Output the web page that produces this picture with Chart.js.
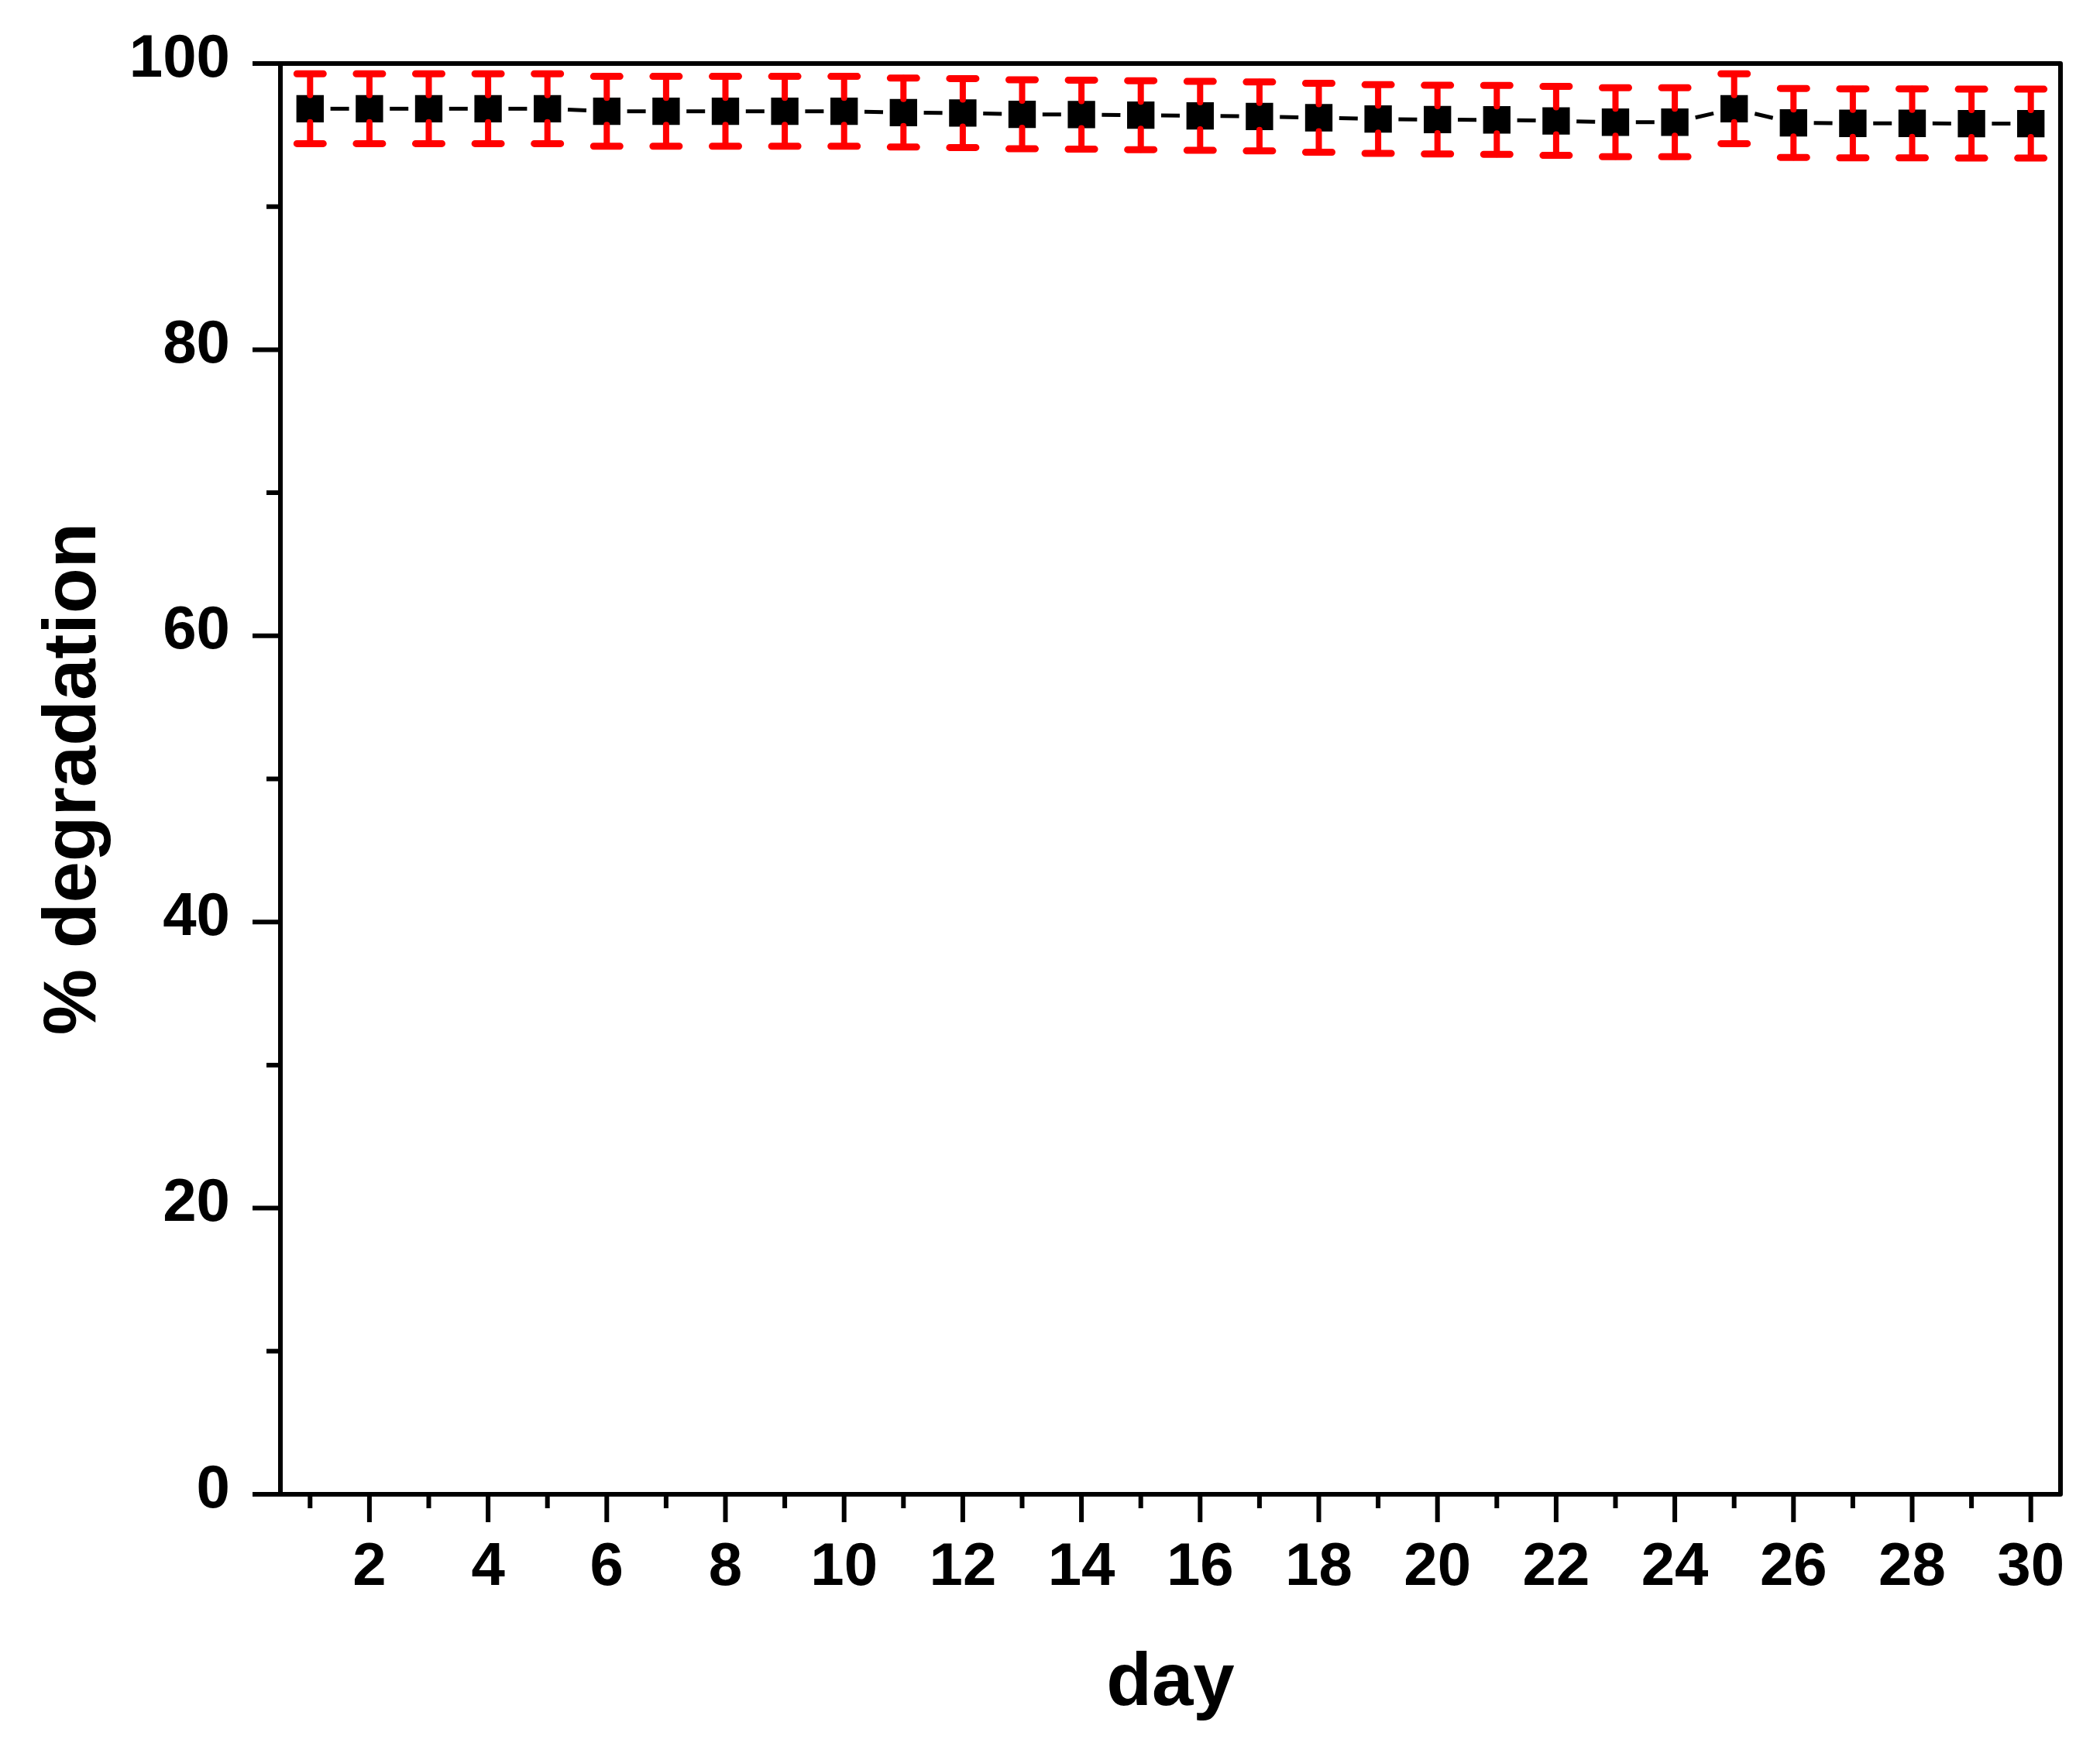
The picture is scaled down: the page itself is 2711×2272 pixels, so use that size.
<!DOCTYPE html>
<html><head><meta charset="utf-8">
<script src="https://cdn.jsdelivr.net/npm/chart.js@4/dist/chart.umd.min.js"></script>
<style>html,body{margin:0;padding:0;background:#fff;}canvas{display:block;}</style>
</head><body>
<canvas id="c" width="2711" height="2272"></canvas>
<script>
// ---- data ----
const days = [1,2,3,4,5,6,7,8,9,10,11,12,13,14,15,16,17,18,19,20,21,22,23,24,25,26,27,28,29,30];
const degradation = [96.84,96.84,96.84,96.84,96.84,96.66,96.66,96.66,96.66,96.66,
                     96.57,96.54,96.45,96.43,96.39,96.34,96.30,96.21,96.12,96.08,
                     96.06,95.99,95.90,95.90,96.84,95.85,95.82,95.82,95.80,95.80];
const errors = [2.44,2.44,2.44,2.44,2.44,2.44,2.44,2.44,2.44,2.44,
                2.41,2.41,2.41,2.41,2.41,2.41,2.41,2.41,2.40,2.40,
                2.41,2.41,2.41,2.41,2.44,2.41,2.41,2.41,2.41,2.41];
const xTickLabels = [2,4,6,8,10,12,14,16,18,20,22,24,26,28,30];
const xMinorTicks = [1,3,5,7,9,11,13,15,17,19,21,23,25,27,29];
const yTickLabels = [0,20,40,60,80,100];
const yMinorTicks = [10,30,50,70,90];
const xTitle = 'day';
const yTitle = '% degradation';

const FONT = '"Liberation Sans", Arial, Helvetica, sans-serif';

const errorBarPlugin = {
  id: 'errorBars',
  afterDatasetsDraw(chart) {
    const {ctx, scales: {x, y}} = chart;
    ctx.save();
    ctx.strokeStyle = '#ff0000';
    ctx.lineCap = 'round';
    const half = 17.5;
    days.forEach((d, i) => {
      const px = x.getPixelForValue(d);
      const pv = y.getPixelForValue(degradation[i]);
      const pt = y.getPixelForValue(degradation[i] + errors[i]);
      const pb = y.getPixelForValue(degradation[i] - errors[i]);
      ctx.lineWidth = 8;
      ctx.beginPath();
      ctx.moveTo(px, pt); ctx.lineTo(px, pv - half);
      ctx.moveTo(px, pb); ctx.lineTo(px, pv + half);
      ctx.stroke();
      ctx.lineWidth = 9;
      ctx.beginPath();
      ctx.moveTo(px - 17, pt); ctx.lineTo(px + 17, pt);
      ctx.moveTo(px - 17, pb); ctx.lineTo(px + 17, pb);
      ctx.stroke();
    });
    ctx.restore();
  }
};

const framePlugin = {
  id: 'frame',
  afterDraw(chart) {
    const {ctx, chartArea: a, scales: {x, y}} = chart;
    ctx.save();
    ctx.strokeStyle = '#000';
    ctx.lineWidth = 6;
    ctx.lineCap = 'butt';
    ctx.beginPath();
    xTickLabels.forEach(v => { const p = x.getPixelForValue(v); ctx.moveTo(p, a.bottom); ctx.lineTo(p, a.bottom + 36); });
    xMinorTicks.forEach(v => { const p = x.getPixelForValue(v); ctx.moveTo(p, a.bottom); ctx.lineTo(p, a.bottom + 18); });
    yTickLabels.forEach(v => { const p = y.getPixelForValue(v); ctx.moveTo(a.left, p); ctx.lineTo(a.left - 36, p); });
    yMinorTicks.forEach(v => { const p = y.getPixelForValue(v); ctx.moveTo(a.left, p); ctx.lineTo(a.left - 18, p); });
    ctx.stroke();
    ctx.lineJoin = 'round';
    ctx.strokeRect(a.left, a.top, a.right - a.left, a.bottom - a.top);
    ctx.restore();
  }
};

new Chart(document.getElementById('c'), {
  type: 'line',
  data: {
    datasets: [{
      data: days.map((d, i) => ({x: d, y: degradation[i]})),
      borderColor: '#000',
      borderWidth: 5,
      borderDash: [24, 4000],
      tension: 0,
      pointStyle: 'rect',
      pointRadius: 25,
      pointHoverRadius: 25,
      pointBackgroundColor: '#000',
      pointBorderWidth: 0,
      segment: {
        borderDashOffset: c => -(Math.hypot(c.p1.x - c.p0.x, c.p1.y - c.p0.y) - 24) / 2 - c.p0DataIndex * 1e-4
      }
    }]
  },
  options: {
    responsive: false,
    animation: false,
    devicePixelRatio: 1,
    events: [],
    layout: {padding: {top: 82, right: 51, left: 0, bottom: 0}},
    plugins: {legend: {display: false}, tooltip: {enabled: false}},
    scales: {
      x: {
        type: 'linear', min: 0.5, max: 30.5,
        afterBuildTicks: s => { s.ticks = xTickLabels.map(v => ({value: v})); },
        afterFit: s => { s.height = 343; s.paddingLeft = 0; s.paddingRight = 0; },
        grid: {display: false, drawTicks: false},
        border: {display: false},
        ticks: {autoSkip: false, maxRotation: 0, minRotation: 0, padding: 49, color: '#000',
                font: {family: FONT, size: 78, weight: 'bold'}},
        title: {display: true, text: xTitle, color: '#000',
                font: {family: FONT, size: 96, weight: 'bold', lineHeight: 1.2},
                padding: {top: 0, bottom: 40}}
      },
      y: {
        type: 'linear', min: 0, max: 100,
        afterBuildTicks: s => { s.ticks = yTickLabels.map(v => ({value: v})); },
        afterFit: s => { s.width = 362; s.paddingTop = 0; s.paddingBottom = 0; },
        grid: {display: false, drawTicks: false},
        border: {display: false},
        ticks: {autoSkip: false, padding: 65, labelOffset: -5, color: '#000',
                font: {family: FONT, size: 78, weight: 'bold'}},
        title: {display: true, text: yTitle, color: '#000',
                font: {family: FONT, size: 96, weight: 'bold', lineHeight: 1.2},
                padding: {top: 39, bottom: 0}}
      }
    }
  },
  plugins: [errorBarPlugin, framePlugin]
});
</script>
</body></html>
